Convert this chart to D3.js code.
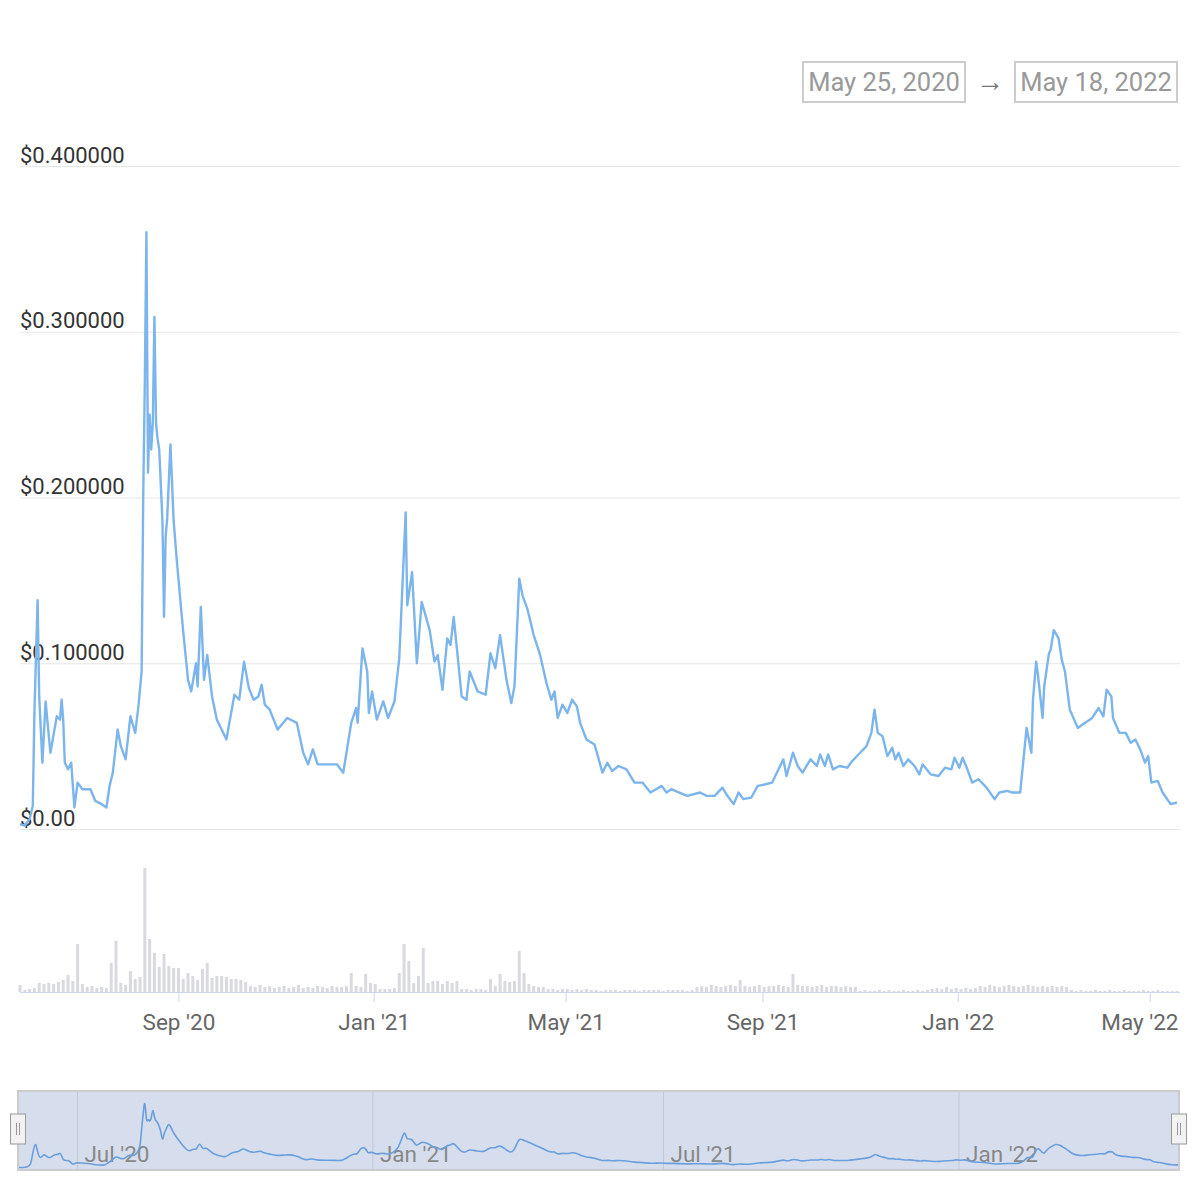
<!DOCTYPE html>
<html>
<head>
<meta charset="utf-8">
<script src="https://cdn.jsdelivr.net/npm/d3@7"></script>
<style>
  body { margin: 0; background: #fff; }
  svg { font-family: Roboto, "Open Sans", sans-serif; display: block; }
</style>
</head>
<body>
<svg id="chart"></svg>
<script>
// ---------------------------------------------------------------
// DATA
// ---------------------------------------------------------------
const rangeStart = "2020-05-25";
const rangeEnd   = "2022-05-18";
const rangeLabels = ["May 25, 2020", "May 18, 2022"];

const priceDates = [
  "2020-05-25","2020-05-28","2020-05-31","2020-06-02","2020-06-03","2020-06-05","2020-06-06","2020-06-08","2020-06-10","2020-06-13",
  "2020-06-15","2020-06-17","2020-06-19","2020-06-20","2020-06-21","2020-06-22","2020-06-24","2020-06-26","2020-06-28","2020-06-30",
  "2020-07-03","2020-07-08","2020-07-11","2020-07-15","2020-07-18","2020-07-20","2020-07-22","2020-07-25","2020-07-27","2020-07-30",
  "2020-08-02","2020-08-05","2020-08-07","2020-08-09","2020-08-10","2020-08-11","2020-08-12","2020-08-13","2020-08-14","2020-08-15",
  "2020-08-16","2020-08-17","2020-08-18","2020-08-19","2020-08-20","2020-08-22","2020-08-23","2020-08-24","2020-08-25","2020-08-27",
  "2020-08-29","2020-08-31","2020-09-02","2020-09-04","2020-09-07","2020-09-09","2020-09-12","2020-09-13","2020-09-15","2020-09-17",
  "2020-09-19","2020-09-22","2020-09-25","2020-09-28","2020-10-01","2020-10-03","2020-10-06","2020-10-09","2020-10-12","2020-10-15",
  "2020-10-18","2020-10-21","2020-10-23","2020-10-25","2020-10-28","2020-11-02","2020-11-08","2020-11-14","2020-11-18","2020-11-21",
  "2020-11-24","2020-11-27","2020-12-03","2020-12-09","2020-12-13","2020-12-18","2020-12-21","2020-12-22","2020-12-25","2020-12-28",
  "2020-12-29","2020-12-31","2021-01-03","2021-01-07","2021-01-10","2021-01-14","2021-01-17","2021-01-19","2021-01-21","2021-01-22",
  "2021-01-25","2021-01-28","2021-01-31","2021-02-05","2021-02-08","2021-02-10","2021-02-13","2021-02-16","2021-02-18","2021-02-20",
  "2021-02-22","2021-02-25","2021-02-28","2021-03-02","2021-03-07","2021-03-12","2021-03-15","2021-03-18","2021-03-21","2021-03-25",
  "2021-03-28","2021-03-30","2021-04-02","2021-04-04","2021-04-07","2021-04-11","2021-04-15","2021-04-19","2021-04-22","2021-04-24",
  "2021-04-26","2021-04-29","2021-05-02","2021-05-05","2021-05-08","2021-05-10","2021-05-14","2021-05-19","2021-05-24","2021-05-27",
  "2021-05-30","2021-06-03","2021-06-08","2021-06-13","2021-06-18","2021-06-23","2021-06-30","2021-07-03","2021-07-06","2021-07-11",
  "2021-07-16","2021-07-24","2021-07-28","2021-08-02","2021-08-07","2021-08-10","2021-08-14","2021-08-17","2021-08-20","2021-08-25",
  "2021-08-29","2021-09-03","2021-09-07","2021-09-11","2021-09-14","2021-09-16","2021-09-20","2021-09-23","2021-09-26","2021-10-01",
  "2021-10-05","2021-10-07","2021-10-10","2021-10-12","2021-10-15","2021-10-19","2021-10-24","2021-10-27","2021-11-01","2021-11-05",
  "2021-11-08","2021-11-10","2021-11-12","2021-11-15","2021-11-18","2021-11-21","2021-11-23","2021-11-25","2021-11-28","2021-12-01",
  "2021-12-05","2021-12-08","2021-12-10","2021-12-15","2021-12-20","2021-12-24","2021-12-28","2021-12-30","2022-01-02","2022-01-04",
  "2022-01-07","2022-01-10","2022-01-14","2022-01-19","2022-01-24","2022-01-27","2022-02-01","2022-02-04","2022-02-09","2022-02-13",
  "2022-02-16","2022-02-17","2022-02-19","2022-02-20","2022-02-23","2022-02-24","2022-02-27","2022-02-28","2022-03-02","2022-03-05",
  "2022-03-07","2022-03-09","2022-03-12","2022-03-17","2022-03-20","2022-03-26","2022-03-30","2022-04-02","2022-04-04","2022-04-07",
  "2022-04-08","2022-04-12","2022-04-16","2022-04-19","2022-04-22","2022-04-25","2022-04-28","2022-04-30","2022-05-02","2022-05-06",
  "2022-05-09","2022-05-14","2022-05-18"
];

const prices = [
  0.003,0.002,0.006,0.014,0.070,0.138,0.080,0.040,0.077,0.046,
  0.057,0.068,0.066,0.078,0.066,0.040,0.036,0.040,0.013,0.028,
  0.024,0.024,0.017,0.015,0.013,0.026,0.034,0.060,0.050,0.042,
  0.068,0.058,0.074,0.095,0.200,0.270,0.360,0.215,0.250,0.229,
  0.245,0.309,0.245,0.235,0.229,0.186,0.128,0.176,0.188,0.232,
  0.186,0.162,0.140,0.119,0.090,0.083,0.100,0.086,0.134,0.090,
  0.105,0.080,0.066,0.060,0.054,0.065,0.081,0.078,0.101,0.085,
  0.078,0.080,0.087,0.075,0.072,0.060,0.067,0.064,0.046,0.039,
  0.048,0.039,0.039,0.039,0.034,0.064,0.073,0.064,0.109,0.095,
  0.070,0.083,0.066,0.077,0.067,0.077,0.103,0.147,0.191,0.135,
  0.155,0.100,0.137,0.120,0.101,0.105,0.084,0.115,0.111,0.128,
  0.109,0.080,0.078,0.095,0.083,0.081,0.106,0.097,0.117,0.090,
  0.076,0.086,0.151,0.141,0.133,0.117,0.105,0.088,0.078,0.083,
  0.067,0.075,0.070,0.078,0.074,0.064,0.054,0.051,0.034,0.040,
  0.035,0.038,0.036,0.028,0.028,0.022,0.026,0.022,0.024,0.022,
  0.020,0.022,0.020,0.020,0.025,0.020,0.015,0.022,0.018,0.019,
  0.026,0.027,0.028,0.036,0.042,0.032,0.046,0.038,0.034,0.042,
  0.038,0.045,0.038,0.045,0.036,0.038,0.037,0.041,0.046,0.050,
  0.058,0.072,0.058,0.056,0.044,0.049,0.042,0.046,0.038,0.042,
  0.038,0.033,0.039,0.033,0.032,0.037,0.036,0.043,0.037,0.043,
  0.036,0.028,0.030,0.025,0.018,0.022,0.023,0.022,0.022,0.061,
  0.046,0.078,0.101,0.094,0.067,0.086,0.106,0.108,0.120,0.115,
  0.102,0.095,0.072,0.061,0.063,0.067,0.073,0.068,0.084,0.080,
  0.067,0.058,0.058,0.052,0.054,0.048,0.040,0.044,0.028,0.029,
  0.022,0.015,0.016
];

// volume, one value every 3 days from rangeStart (millions)
const volumeStepDays = 3;
const volumes = [
  0.7,0.2,0.3,0.4,0.9,0.8,0.9,0.8,1.0,1.2,
  1.7,1.1,4.8,0.8,0.5,0.6,0.4,0.5,0.4,2.9,
  5.1,0.9,0.7,2.1,1.3,1.5,12.4,5.3,3.9,2.5,
  3.8,2.6,2.4,2.4,1.3,1.9,1.6,1.2,2.3,2.9,
  1.4,1.6,1.6,1.5,1.3,1.3,1.2,1.0,
  0.6,0.5,0.7,0.5,0.6,0.4,0.5,0.6,0.4,0.5,0.7,0.4,0.5,0.4,0.6,0.5,0.4,0.6,0.5,
  0.5,0.6,1.9,0.6,0.5,1.8,0.9,0.8,0.3,0.3,0.3,0.4,
  1.9,4.8,3.1,0.9,1.6,4.4,0.9,1.1,1.1,0.8,1.1,0.9,1.1,
  0.3,0.3,0.2,0.3,0.3,0.2,1.3,0.6,1.8,1.1,1.0,1.1,4.1,1.9,0.8,0.6,0.5,0.5,
  0.3,0.3,0.2,0.3,0.3,0.2,0.3,0.2,0.3,
  0.2,0.2,0.1,0.2,0.2,0.2,0.1,0.2,0.2,0.2,0.1,0.2,0.2,0.2,0.2,0.1,0.2,0.2,0.2,0.2,0.1,0.2,
  0.5,0.6,0.5,0.7,0.6,0.5,0.6,0.7,0.6,1.2,0.6,0.5,0.6,0.7,0.5,0.6,0.6,0.7,0.6,0.5,
  1.8,0.7,0.6,0.6,0.5,0.6,0.7,0.5,0.6,0.6,0.5,0.6,0.5,0.5,
  0.1,0.2,0.1,0.1,0.2,0.1,0.2,0.1,0.1,0.2,0.1,0.1,0.2,0.1,0.2,
  0.3,0.4,0.3,0.5,0.3,0.4,0.3,0.4,0.3,0.4,
  0.6,0.5,0.7,0.6,0.5,0.6,0.7,0.6,0.5,0.6,0.7,0.6,0.5,0.6,0.5,0.6,0.5,0.6,0.5,
  0.2,0.1,0.2,0.1,0.1,0.2,0.1,0.1,0.2,0.1,0.1,0.2,0.1,0.1,0.1,0.2,0.1,0.1,0.2,0.1,0.1,0.1,0.1
];

const yTickValues = [0, 0.1, 0.2, 0.3, 0.4];
const xTickDates  = ["2020-09-01","2021-01-01","2021-05-01","2021-09-01","2022-01-01","2022-05-01"];
const navTickDates = ["2020-07-01","2021-01-01","2021-07-01","2022-01-01"];

// ---------------------------------------------------------------
// SETUP
// ---------------------------------------------------------------
const W = 1200, H = 1200;
const parse = d3.timeParse("%Y-%m-%d");
const svg = d3.select("#chart").attr("width", W).attr("height", H);

const series = priceDates.map((d, i) => ({ date: parse(d), value: prices[i] }));
const start = parse(rangeStart), end = parse(rangeEnd);
const volData = volumes.map((v, i) => ({ date: d3.timeDay.offset(start, i * volumeStepDays), value: v }));

// main chart scales
const x = d3.scaleTime().domain([start, end]).range([20, 1177]);
const y = d3.scaleLinear().domain([0, 0.4]).range([829, 166]);
const yVol = d3.scaleLinear().domain([0, d3.max(volumes)]).range([992, 868]);

// ---------------------------------------------------------------
// RANGE SELECTOR BOXES
// ---------------------------------------------------------------
const boxes = [{ x: 803, label: rangeLabels[0] }, { x: 1015, label: rangeLabels[1] }];
const rs = svg.append("g");
rs.selectAll("rect").data(boxes).join("rect")
  .attr("x", d => d.x).attr("y", 62).attr("width", 162).attr("height", 40)
  .attr("fill", "#fff").attr("stroke", "#cccccc").attr("stroke-width", 2);
rs.selectAll("text.lbl").data(boxes).join("text")
  .attr("class", "lbl")
  .attr("x", d => d.x + 81).attr("y", 91)
  .attr("text-anchor", "middle").attr("font-size", 25.5).attr("fill", "#999")
  .text(d => d.label);
rs.append("text").attr("x", 990).attr("y", 91).attr("text-anchor", "middle")
  .attr("font-size", 28).attr("font-family", "Liberation Sans").attr("fill", "#777").text("\u2192");

// ---------------------------------------------------------------
// Y GRID + LABELS
// ---------------------------------------------------------------
const yFmt = d => d === 0 ? "$0.00" : d3.format("$.6f")(d);
const yAxis = svg.append("g")
  .attr("transform", "translate(20,0)")
  .call(d3.axisRight(y).tickValues(yTickValues).tickSize(1160).tickFormat(yFmt));
yAxis.select(".domain").remove();
yAxis.selectAll(".tick line").attr("stroke", "#e6e6e6");
yAxis.selectAll(".tick text")
  .attr("x", 0).attr("dy", -4).attr("text-anchor", "start")
  .attr("font-size", 22).attr("fill", "#333").attr("font-family", "Roboto");

// ---------------------------------------------------------------
// VOLUME BARS
// ---------------------------------------------------------------
svg.append("g").selectAll("rect").data(volData).join("rect")
  .attr("x", d => x(d.date) - 1.5)
  .attr("width", 3)
  .attr("y", d => yVol(d.value))
  .attr("height", d => yVol(0) - yVol(d.value))
  .attr("fill", "#d8dae0");

// ---------------------------------------------------------------
// PRICE LINE
// ---------------------------------------------------------------
const line = d3.line().x(d => x(d.date)).y(d => y(d.value));
svg.append("path").datum(series)
  .attr("fill", "none").attr("stroke", "#7cb5ec").attr("stroke-width", 2.4)
  .attr("stroke-linejoin", "round").attr("d", line);

// ---------------------------------------------------------------
// X AXIS
// ---------------------------------------------------------------
const xAxis = svg.append("g")
  .attr("transform", "translate(0,992)")
  .call(d3.axisBottom(x).tickValues(xTickDates.map(parse)).tickSize(10).tickSizeOuter(0)
    .tickFormat(d3.timeFormat("%b '%y")));
xAxis.select(".domain").attr("stroke", "#ccd6eb").attr("d", "M20,0.5H1180");
xAxis.selectAll(".tick line").attr("stroke", "#ccd6eb");
xAxis.selectAll(".tick text").attr("y", 22).attr("dy", "0.71em")
  .attr("font-size", 22.5).attr("fill", "#666").attr("font-family", "Roboto");
// keep the last label inside the plot, as the reference does
xAxis.selectAll(".tick").each(function(d) {
  const t = d3.select(this).select("text");
  const w = t.node().getComputedTextLength();
  const right = x(d) + w / 2;
  if (right > 1178) t.attr("text-anchor", "end").attr("x", 1178 - x(d));
});

// ---------------------------------------------------------------
// NAVIGATOR
// ---------------------------------------------------------------
const navTop = 1091, navBottom = 1170, navLeft = 18, navRight = 1179;
const xNav = d3.scaleTime().domain([start, end]).range([navLeft, navRight]);
const yNav = d3.scaleLinear().domain([0, d3.max(prices)]).range([1168, 1096]);

const nav = svg.append("g");
nav.append("rect").attr("x", navLeft).attr("y", navTop)
  .attr("width", navRight - navLeft).attr("height", navBottom - navTop)
  .attr("fill", "rgba(102,133,194,0.27)");

nav.selectAll("line.grid").data(navTickDates.map(parse)).join("line")
  .attr("class", "grid")
  .attr("x1", d => xNav(d)).attr("x2", d => xNav(d))
  .attr("y1", navTop).attr("y2", navBottom)
  .attr("stroke", "#c4c8d0").attr("stroke-width", 1);
nav.selectAll("text").data(navTickDates.map(parse)).join("text")
  .attr("x", d => xNav(d) + 7).attr("y", 1162)
  .attr("font-size", 22.5).attr("fill", "#888")
  .text(d3.timeFormat("%b '%y"));

nav.append("path").datum(series)
  .attr("fill", "none").attr("stroke", "#6a9fdc").attr("stroke-width", 1.6)
  .attr("d", d3.line().curve(d3.curveBasis).x(d => xNav(d.date)).y(d => yNav(d.value)));

nav.append("rect").attr("x", navLeft).attr("y", navTop)
  .attr("width", navRight - navLeft).attr("height", navBottom - navTop)
  .attr("fill", "none").attr("stroke", "#cccccc").attr("stroke-width", 2);

// handles
const handles = nav.selectAll("g.handle").data([navLeft, navRight]).join("g")
  .attr("class", "handle")
  .attr("transform", d => `translate(${d},1114)`);
handles.append("rect").attr("x", -7.5).attr("y", 0).attr("width", 15).attr("height", 30)
  .attr("fill", "#f2f2f2").attr("stroke", "#999").attr("stroke-width", 1);
handles.append("path").attr("d", "M-1.5,9V21M1.5,9V21")
  .attr("stroke", "#999").attr("stroke-width", 1).attr("fill", "none");
</script>
</body>
</html>
